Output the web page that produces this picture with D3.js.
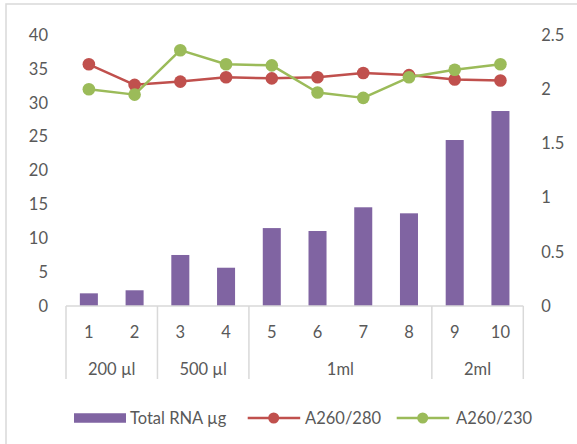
<!DOCTYPE html>
<html>
<head>
<meta charset="utf-8">
<script src="https://cdn.jsdelivr.net/npm/d3@7"></script>
<style>
  html, body { margin: 0; padding: 0; background: #fff; }
  svg { display: block; font-family: Lato, "Open Sans", sans-serif; }
</style>
</head>
<body>
<svg id="chart" width="577" height="444"></svg>
<script>
// Sample numbers and their extraction volume groups
const samples = ["1", "2", "3", "4", "5", "6", "7", "8", "9", "10"];
const groups = ["200 µl", "200 µl", "500 µl", "500 µl", "1ml", "1ml", "1ml", "1ml", "2ml", "2ml"];

// Series values
const totalRNA = [1.87, 2.32, 7.53, 5.65, 11.5, 11.07, 14.57, 13.68, 24.5, 28.78];
const a260_280 = [2.23, 2.04, 2.07, 2.11, 2.10, 2.11, 2.15, 2.13, 2.09, 2.08];
const a260_230 = [2.00, 1.95, 2.36, 2.23, 2.22, 1.97, 1.92, 2.11, 2.18, 2.23];

// Axis tick values
const leftTicks = [0, 5, 10, 15, 20, 25, 30, 35, 40];
const rightTicks = [0, 0.5, 1, 1.5, 2, 2.5];

const seriesNames = ["Total RNA µg", "A260/280", "A260/230"];
const colors = { bar: "#8064A2", red: "#C0504D", green: "#9BBB59" };
const textColor = "#595959";
const lineColor = "#D9D9D9";

const svg = d3.select("#chart");

// chart frame
svg.append("rect")
  .attr("x", 6).attr("y", 4)
  .attr("width", 600).attr("height", 500)
  .attr("fill", "none").attr("stroke", lineColor).attr("stroke-width", 1.5);

const plot = { left: 66, right: 523.3, top: 35, bottom: 306 };

const x = d3.scaleBand()
  .domain(samples)
  .range([plot.left, plot.right])
  .paddingInner(0.606)
  .paddingOuter(0.303);

const yL = d3.scaleLinear().domain([0, 40]).range([plot.bottom, plot.top]);
const yR = d3.scaleLinear().domain([0, 2.5]).range([plot.bottom, plot.top]);

const fontSize = 16.5;

// left value axis (labels only)
const leftAxis = svg.append("g")
  .attr("transform", `translate(${plot.left - 18},0)`)
  .call(d3.axisLeft(yL).tickValues(leftTicks).tickSize(0).tickPadding(0));
leftAxis.select(".domain").remove();

// right value axis (labels only)
const rightAxis = svg.append("g")
  .attr("transform", `translate(${plot.right + 18},0)`)
  .call(d3.axisRight(yR).tickValues(rightTicks).tickSize(0).tickPadding(0)
    .tickFormat(d3.format("~g")));
rightAxis.select(".domain").remove();

svg.selectAll(".tick text")
  .attr("fill", textColor)
  .style("font-size", fontSize + "px")
  .style("font-family", "Lato, 'Open Sans', sans-serif");

// bars
svg.append("g").selectAll("rect")
  .data(samples)
  .join("rect")
  .attr("x", d => x(d))
  .attr("width", x.bandwidth())
  .attr("y", (d, i) => yL(totalRNA[i]))
  .attr("height", (d, i) => yL(0) - yL(totalRNA[i]))
  .attr("fill", colors.bar);

// category axis baseline
svg.append("line")
  .attr("x1", plot.left).attr("x2", plot.right)
  .attr("y1", plot.bottom).attr("y2", plot.bottom)
  .attr("stroke", lineColor).attr("stroke-width", 1.5);

// group boundaries
const step = x.step();
const bounds = [0];
groups.forEach((g, i) => { if (i > 0 && g !== groups[i - 1]) bounds.push(i); });
bounds.push(samples.length);
const boundX = i => plot.left + i * step;

svg.append("g").selectAll("line")
  .data(bounds)
  .join("line")
  .attr("x1", d => boundX(d)).attr("x2", d => boundX(d))
  .attr("y1", plot.bottom).attr("y2", 379)
  .attr("stroke", lineColor).attr("stroke-width", 1.5);

// sample labels
svg.append("g").selectAll("text")
  .data(samples)
  .join("text")
  .attr("x", d => x(d) + x.bandwidth() / 2)
  .attr("y", 332)
  .attr("dy", "0.35em")
  .attr("text-anchor", "middle")
  .attr("fill", textColor)
  .style("font-size", fontSize + "px")
  .text(d => d);

// group labels
const groupSpans = bounds.slice(0, -1).map((b, k) => ({
  name: groups[b], start: b, end: bounds[k + 1]
}));
svg.append("g").selectAll("text")
  .data(groupSpans)
  .join("text")
  .attr("x", d => (boundX(d.start) + boundX(d.end)) / 2)
  .attr("y", 369)
  .attr("dy", "0.35em")
  .attr("text-anchor", "middle")
  .attr("fill", textColor)
  .style("font-size", fontSize + "px")
  .text(d => d.name);

// ratio lines with markers
function drawSeries(values, color) {
  const g = svg.append("g");
  const line = d3.line()
    .x((d, i) => x(samples[i]) + x.bandwidth() / 2)
    .y(d => yR(d));
  g.append("path")
    .datum(values)
    .attr("d", line)
    .attr("fill", "none")
    .attr("stroke", color)
    .attr("stroke-width", 2.5)
    .attr("stroke-linejoin", "round");
  g.selectAll("circle")
    .data(values)
    .join("circle")
    .attr("cx", (d, i) => x(samples[i]) + x.bandwidth() / 2)
    .attr("cy", d => yR(d))
    .attr("r", 6.3)
    .attr("fill", color);
}
drawSeries(a260_280, colors.red);
drawSeries(a260_230, colors.green);

// legend
const ly = 418;
const legend = svg.append("g");
legend.append("rect")
  .attr("x", 74).attr("y", ly - 4.75)
  .attr("width", 52).attr("height", 9.5)
  .attr("fill", colors.bar);
legend.append("text")
  .attr("x", 130).attr("y", ly).attr("dy", "0.35em")
  .attr("fill", textColor).style("font-size", fontSize + "px")
  .text(seriesNames[0]);

const lineItems = [
  { x0: 247.7, tx: 305, color: colors.red, name: seriesNames[1] },
  { x0: 396.7, tx: 456, color: colors.green, name: seriesNames[2] }
];
lineItems.forEach(it => {
  legend.append("line")
    .attr("x1", it.x0).attr("x2", it.x0 + 52.5)
    .attr("y1", ly).attr("y2", ly)
    .attr("stroke", it.color).attr("stroke-width", 2.5);
  legend.append("circle")
    .attr("cx", it.x0 + 26).attr("cy", ly).attr("r", 5.5)
    .attr("fill", it.color);
  legend.append("text")
    .attr("x", it.tx).attr("y", ly).attr("dy", "0.35em")
    .attr("fill", textColor).style("font-size", fontSize + "px")
    .text(it.name);
});
</script>
</body>
</html>
